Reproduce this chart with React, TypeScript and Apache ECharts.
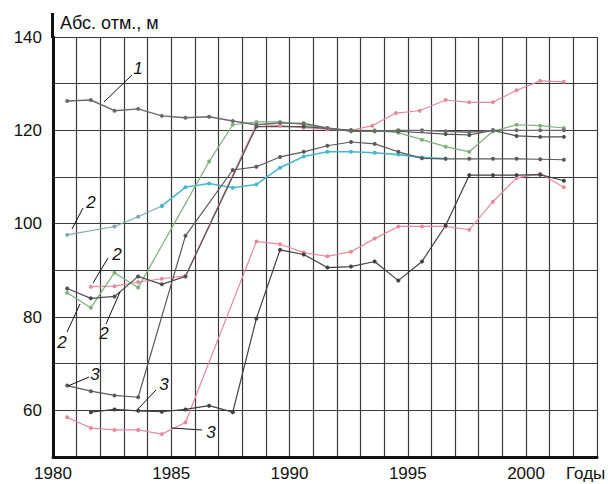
import React, { useEffect, useRef } from "react";
import * as echarts from "echarts";

// ---- data (year, absolute elevation, m) ----
const xTickYears = [1980, 1985, 1990, 1995, 2000];
const yTickValues = [60, 80, 100, 120, 140];

const well1 = [
  [1980.6, 126.3], [1981.6, 126.5], [1982.6, 124.2], [1983.6, 124.6], [1984.6, 123.1],
  [1985.6, 122.7], [1986.6, 122.9], [1987.6, 122.0], [1988.6, 121.2], [1989.6, 121.6],
  [1990.6, 121.5], [1991.6, 120.5], [1992.6, 119.8], [1993.6, 119.8], [1994.6, 120.0],
  [1995.6, 120.0], [1996.6, 119.8], [1997.6, 119.6], [1998.6, 120.0], [1999.6, 120.0],
  [2000.6, 120.0], [2001.6, 120.0],
];

const well2aEarly = [
  [1980.6, 97.6], [1982.6, 99.4], [1983.6, 101.5], [1984.6, 103.8],
];

const well2a = [
  [1984.6, 103.8], [1985.6, 107.8],
  [1986.6, 108.6], [1987.6, 107.7], [1988.6, 108.4], [1989.6, 112.0], [1990.6, 114.4],
  [1991.6, 115.4], [1992.6, 115.4], [1993.6, 115.2], [1994.6, 114.8], [1995.6, 114.2],
  [1996.6, 113.9],
];

const well2b = [
  [1981.6, 86.5], [1982.6, 86.6], [1983.6, 87.5], [1984.6, 88.2], [1985.6, 88.8],
  [1988.6, 121.3], [1989.6, 121.0], [1990.6, 120.6], [1991.6, 120.2], [1992.6, 120.0],
  [1993.5, 121.0], [1994.5, 123.7], [1995.5, 124.2], [1996.6, 126.5], [1997.6, 126.0],
  [1998.6, 126.0], [1999.6, 128.6], [2000.6, 130.6], [2001.6, 130.4],
];

const well2c = [
  [1980.6, 86.1], [1981.6, 84.0], [1982.6, 84.4], [1983.6, 88.7], [1984.6, 87.0],
  [1985.6, 88.7], [1988.6, 120.8], [1990.6, 120.8], [1992.6, 120.0], [1994.6, 119.8],
  [1996.6, 119.2], [1997.6, 119.0], [1998.6, 120.0], [1999.6, 118.8], [2000.6, 118.6],
  [2001.6, 118.6],
];

const well2d = [
  [1980.6, 85.2], [1981.6, 82.0], [1982.6, 89.5], [1983.6, 86.3], [1986.6, 113.3],
  [1987.6, 121.2], [1988.6, 121.8], [1989.6, 121.8], [1990.6, 121.2], [1991.6, 120.5],
  [1992.6, 120.0], [1993.6, 120.0], [1994.6, 119.5], [1995.6, 118.0], [1996.6, 116.5],
  [1997.6, 115.4], [1998.6, 119.8], [1999.6, 121.2], [2000.6, 121.0], [2001.6, 120.5],
];

const well3a = [
  [1980.6, 65.3], [1981.6, 64.1], [1982.6, 63.2], [1983.6, 62.8], [1985.6, 97.4],
  [1987.6, 111.5], [1988.6, 112.2], [1989.6, 114.3], [1990.6, 115.4], [1991.6, 116.7],
  [1992.6, 117.5], [1993.6, 117.1], [1994.6, 115.4], [1995.6, 114.0], [1996.6, 113.9],
  [1997.6, 113.9], [1998.6, 113.9], [1999.6, 113.9], [2000.6, 113.8], [2001.6, 113.7],
];

const well3b = [
  [1981.6, 59.6], [1982.6, 60.2], [1983.6, 59.9], [1984.6, 59.7], [1985.6, 60.2],
  [1986.6, 61.0], [1987.6, 59.6], [1988.6, 79.7], [1989.6, 94.4], [1990.6, 93.4],
  [1991.6, 90.6], [1992.6, 90.8], [1993.6, 91.9], [1994.6, 87.8], [1995.6, 91.9],
  [1996.6, 99.6], [1997.6, 110.4], [1998.6, 110.4], [1999.6, 110.4], [2000.6, 110.5],
  [2001.6, 109.2],
];

const well3c = [
  [1980.6, 58.5], [1981.6, 56.2], [1982.6, 55.8], [1983.6, 55.8], [1984.6, 54.9],
  [1985.6, 57.4], [1988.6, 96.2], [1989.6, 95.6], [1990.6, 93.8], [1991.6, 93.0],
  [1992.6, 94.0], [1993.6, 96.8], [1994.6, 99.4], [1995.6, 99.4], [1996.6, 99.4],
  [1997.6, 98.7], [1998.6, 104.7], [1999.6, 109.8], [2000.6, 110.7], [2001.6, 107.8],
];

const FONT = '"Liberation Sans", Arial, Helvetica, sans-serif';

function mkSeries(name: string, data: number[][], color: string, width = 1.2) {
  return {
    name,
    type: "line",
    data,
    symbol: "circle",
    symbolSize: 4,
    showSymbol: true,
    itemStyle: { color },
    lineStyle: { color, width },
    z: 3,
  };
}

function label(text: string, x: number, y: number) {
  return {
    type: "text",
    x,
    y,
    style: {
      text,
      font: `italic 17px ${FONT}`,
      fill: "#111",
      textAlign: "center",
      textVerticalAlign: "middle",
    },
    z: 10,
  };
}

function leader(x1: number, y1: number, x2: number, y2: number) {
  return {
    type: "line",
    shape: { x1, y1, x2, y2 },
    style: { stroke: "#111", lineWidth: 1 },
    z: 10,
  };
}

export default function App() {
  const ref = useRef<HTMLDivElement>(null);
  useEffect(() => {
    const chart = echarts.init(ref.current!, null, { renderer: "svg" });
    chart.setOption({
      animation: false,
      backgroundColor: "#fff",
      grid: { left: 53, right: 11, top: 37, bottom: 27, containLabel: false },
      xAxis: {
        type: "value",
        min: 1980,
        max: 2003,
        interval: 1,
        axisLine: { show: true, onZero: false, lineStyle: { color: "#111", width: 3 } },
        axisTick: { show: false },
        splitLine: { show: true, lineStyle: { color: "#3a3a3a", width: 1.2 } },
        axisLabel: {
          fontSize: 17,
          fontFamily: FONT,
          color: "#111",
          margin: 8,
          formatter: (v: number) => (xTickYears.includes(v) ? String(v) : ""),
        },
      },
      yAxis: {
        type: "value",
        min: 50,
        max: 140,
        interval: 10,
        axisLine: { show: true, onZero: false, lineStyle: { color: "#111", width: 3 } },
        axisTick: { show: false },
        splitLine: { show: true, lineStyle: { color: "#3a3a3a", width: 1.2 } },
        axisLabel: {
          fontSize: 17,
          fontFamily: FONT,
          color: "#111",
          margin: 11,
          formatter: (v: number) => (yTickValues.includes(v) ? String(v) : ""),
        },
      },
      series: [
        mkSeries("2b", well2b, "#e58a9c"),
        mkSeries("3c", well3c, "#e58a9c"),
        mkSeries("2a-early", well2aEarly, "#7fa8aa", 1.1),
        mkSeries("2a", well2a, "#45b8cf", 1.6),
        mkSeries("2d", well2d, "#7fb07c"),
        mkSeries("2c", well2c, "#505050"),
        mkSeries("3a", well3a, "#5a5a5a"),
        mkSeries("3b", well3b, "#404040"),
        mkSeries("1", well1, "#6a6a6a", 1.4),
      ],
      graphic: [
        { type: "line", shape: { x1: 52.5, y1: 13, x2: 52.5, y2: 38 }, style: { stroke: "#111", lineWidth: 3 } },
        {
          type: "text",
          x: 60,
          y: 23,
          style: { text: "Абс. отм., м", font: `18px ${FONT}`, fill: "#111", textVerticalAlign: "middle" },
        },
        {
          type: "text",
          x: 566,
          y: 473,
          style: { text: "Годы", font: `17px ${FONT}`, fill: "#111", textVerticalAlign: "middle" },
        },
        label("1", 138, 68),
        leader(132, 75, 104, 102),
        label("2", 91, 202),
        leader(83, 208, 72, 229),
        label("2", 117, 254),
        leader(108, 258, 93, 283),
        label("2", 62, 342),
        leader(67, 332, 80, 304),
        label("2", 104, 333),
        leader(106, 324, 120, 292),
        label("3", 95, 374),
        leader(89, 377, 68, 386),
        label("3", 164, 384),
        leader(156, 390, 137, 410),
        label("3", 211, 432),
        leader(202, 430, 172, 428),
      ],
    });
    return () => chart.dispose();
  }, []);
  return (
    <div
      ref={ref}
      style={{ position: "fixed", left: 0, top: 0, width: 608, height: 484, background: "#fff" }}
    />
  );
}
